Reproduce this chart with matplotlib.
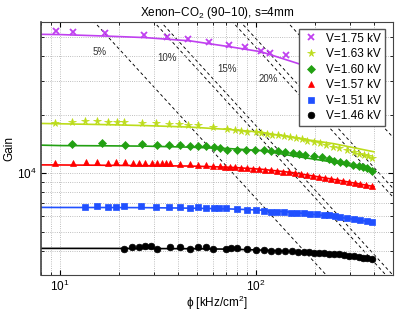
import numpy as np
import matplotlib
matplotlib.use("Agg")
import matplotlib.pyplot as plt
from matplotlib.ticker import NullFormatter

plt.rcParams['font.family'] = ['Liberation Sans', 'DejaVu Sans']
plt.rcParams['mathtext.fontset'] = 'custom'
plt.rcParams['mathtext.rm'] = 'Liberation Sans'
plt.rcParams['mathtext.it'] = 'Liberation Sans:italic'

# ---- measured points (rate phi in kHz/cm2, gain) ----
phi_175 = [9.5, 11.7, 16.9, 26.7, 35.2, 44.8, 57.5, 72.9, 87.9, 105.7, 117.8, 141.6]
g_175 = [54200, 53100, 52900, 51600, 50200, 49000, 47500, 45800, 44400, 42700, 41700, 40400]

phi_163 = [9.4, 11.5, 13.4, 15.5, 17.5, 19.5, 21.1, 26.3, 31.0, 35.9, 40.6, 45.2, 50.6, 60.3,
           71.5, 77.9, 83.6, 90.3, 99.7, 105.7, 113.3, 121, 129.8, 138.7, 148.8, 160.9, 171.8,
           182, 196.9, 211.3, 227.5, 246, 266, 290.7, 314.5, 336, 356, 374.7, 392.6]
g_163 = [18200, 18350, 18570, 18480, 18350, 18350, 18350, 18200, 18050, 17980, 17920, 17700, 17620, 17290,
         16940, 16800, 16600, 16400, 16290, 16150, 15960, 15780, 15650, 15530, 15400, 15220, 15040,
         14740, 14570, 14290, 14000, 13730, 13460, 13150, 12880, 12630, 12430, 12240, 12040]

phi_160 = [11.5, 16.3, 21.5, 26.2, 31.1, 36.1, 41.0, 46.1, 50.6, 55.5, 61.0,
           65.5, 71.5, 79.8, 89.3, 98.9, 109.8, 118.8, 129.3, 139.9, 154.1, 166.7, 178.7,
           197, 217, 234.8, 248.9, 269, 288.7, 311.9, 333.4, 353.5, 370.3, 392.6]
g_160 = [14120, 14340, 14010, 14120, 14010, 14010, 14010, 13840, 13840, 13840, 13730,
         13500, 13250, 13250, 13150, 13150, 13150, 13090, 13000, 12840, 12690, 12580, 12480,
         12330, 12100, 11860, 11620, 11400, 11260, 11040, 10870, 10740, 10610, 10280]

phi_157 = [9.46, 11.6, 13.5, 15.4, 17.6, 19.2, 21.4, 23.6, 25.3, 27.3, 29.3, 31.2, 33.2, 34.9, 36.6,
           41.0, 46.1, 50.6, 55.5, 60.5, 65.7, 69.6, 73.8, 78.2, 83.9, 90.0, 96.6, 103.6, 111.1,
           119.2, 127.8, 137.1, 147.1, 157.8, 169.2, 181.5, 194.7, 208.9, 224.0, 240.3, 257.8,
           276.5, 296.6, 318.1, 341.2, 366.0, 392.6]
g_157 = [11260, 11260, 11480, 11400, 11300, 11480, 11400, 11300, 11300, 11300, 11340, 11340, 11300, 11340, 11340,
         11170, 11170, 11080, 11040, 10950, 10843, 10804, 10778, 10727, 10676, 10625, 10575, 10525, 10450,
         10375, 10302, 10216, 10120, 10012, 9905, 9799, 9707, 9592, 9478, 9367, 9245,
         9126, 9007, 8901, 8795, 8690, 8588]

phi_151 = [13.4, 15.4, 17.5, 19.4, 21.3, 25.9, 30.8, 35.9, 41.1, 45.9, 50.8, 55.5, 60.7,
           64.9, 70.2, 80.4, 90.3, 99.7, 109.8, 118.8, 128.3, 138.7, 150.1, 162.0, 175.3,
           189.6, 204.8, 221.4, 234.8, 253.9, 269.2, 290.8, 314.5, 340, 367.3, 392.6]
g_151 = [6673, 6752, 6697, 6697, 6752, 6800, 6721, 6721, 6721, 6641, 6697, 6594, 6618,
         6618, 6618, 6540, 6485, 6485, 6408, 6363, 6333, 6333, 6288, 6288, 6235,
         6213, 6161, 6139, 6088, 6037, 5994, 5923, 5852, 5755, 5689, 5622]

phi_146 = [21.3, 23.3, 25.3, 27.2, 29.1, 31.3, 36.2, 41.0, 46.2, 50.8, 55.5, 60.5,
           70.2, 74.4, 79.8, 89.7, 99.7, 109.8, 119.6, 129.8, 140.4, 151.8, 163.4, 175.3,
           187.3, 197, 208.9, 221.4, 234.8, 248.9, 263.9, 279.8, 296.6, 314.5, 333.4,
           353.5, 370.3, 389.4]
g_146 = [4096, 4160, 4160, 4210, 4210, 4096, 4160, 4175, 4077, 4160, 4160, 4096,
         4096, 4111, 4111, 4063, 4029, 4015, 4001, 4001, 3981, 3967, 3953, 3934,
         3920, 3906, 3888, 3874, 3860, 3841, 3828, 3795, 3768, 3751, 3724,
         3680, 3650, 3607]

# ---- fitted curves ----
fit_phi = [8, 10, 17, 27, 46, 73, 106, 152, 250, 400]
fit_175 = [51850, 51700, 50800, 49900, 48000, 44800, 42200, 37600, 32000, 26000]
fit_163 = [18050, 17980, 17800, 17600, 17290, 16800, 16290, 15300, 14200, 12900]
fit_160 = [13960, 13890, 13850, 13800, 13630, 13400, 13090, 12330, 11400, 10250]
fit_157 = [11050, 11040, 11000, 10950, 10900, 10750, 10500, 10100, 9300, 8550]
fit_151 = [6680, 6675, 6670, 6660, 6620, 6560, 6470, 6310, 6000, 5600]
fit_146 = [4111, 4111, 4110, 4105, 4095, 4075, 4030, 3960, 3830, 3600]

voltages = ['V=1.75 kV', 'V=1.63 kV', 'V=1.60 kV', 'V=1.57 kV', 'V=1.51 kV', 'V=1.46 kV']

# constant-drop guide lines: gain = C * phi^-1.1
guide_logC = [6.071, 6.406, 6.445, 6.847, 6.892, 7.154]
guide_labels = ['5%', '10%', '15%', '20%']
guide_label_phi = [16.0, 35.3, 71.3, 115]
guide_label_g = [41850, 38970, 34190, 30710]

fig = plt.figure(figsize=(4.09, 3.14), dpi=100)
ax = fig.add_axes([41/409, 39/314, 352/409, 253/314])

pp = np.logspace(np.log10(5), np.log10(800), 50)
for lc in guide_logC:
    ax.plot(pp, 10**lc * pp**-1.1, color='k', ls=(0, (3.5, 3)), lw=0.65, zorder=1)
for t, x, y in zip(guide_labels, guide_label_phi, guide_label_g):
    ax.text(x, y, t, fontsize=7, ha='center', va='center', color='#333333')

series = [
    (phi_175, g_175, fit_175, 'x', '#c040f0', 4.5),
    (phi_163, g_163, fit_163, '*', '#bcdc1a', 5.5),
    (phi_160, g_160, fit_160, 'D', '#22a012', 4.2),
    (phi_157, g_157, fit_157, '^', '#ff0000', 4.8),
    (phi_151, g_151, fit_151, 's', '#2050ff', 4.2),
    (phi_146, g_146, fit_146, 'o', '#000000', 4.8),
]
for (px, gy, fy, m, c, ms), lab in zip(series, voltages):
    ax.plot(fit_phi, fy, color=c, lw=1.2, zorder=2)
    ax.plot(px, gy, ls='none', marker=m, color=c, ms=ms, mew=1.3 if m == 'x' else 0.5,
            label=lab, zorder=3)

ax.set_xscale('log')
ax.set_yscale('log')
ax.set_xlim(8, 500)
ax.set_ylim(3000, 60000)
ax.yaxis.set_minor_formatter(NullFormatter())
ax.xaxis.set_minor_formatter(NullFormatter())
ax.grid(True, which='both', ls=':', color='#aaaaaa', lw=0.6)
ax.tick_params(which='both', direction='in', top=True, right=True, labelsize=8.5)
ax.tick_params(axis='x', pad=2.5)
for s in ax.spines.values():
    s.set_color('#444444')
ax.spines['left'].set_linewidth(1.2)

ax.set_title('Xenon\u2212CO$_2$ (90\u221210), s=4mm', fontsize=8.5, pad=4)
ax.set_xlabel('\u03d5 [kHz/cm$^2$]', fontsize=8.5, labelpad=0)
ax.set_ylabel('Gain', fontsize=8.5, labelpad=1)

leg = ax.legend(loc='upper right', bbox_to_anchor=(0.977, 0.972), borderaxespad=0,
                fontsize=8.5, fancybox=False, framealpha=1, edgecolor='#555555',
                handletextpad=0.6, labelspacing=0.3, handlelength=1.4, borderpad=0.3)
leg.get_frame().set_linewidth(1.0)

fig.savefig('out.png', dpi=100)
